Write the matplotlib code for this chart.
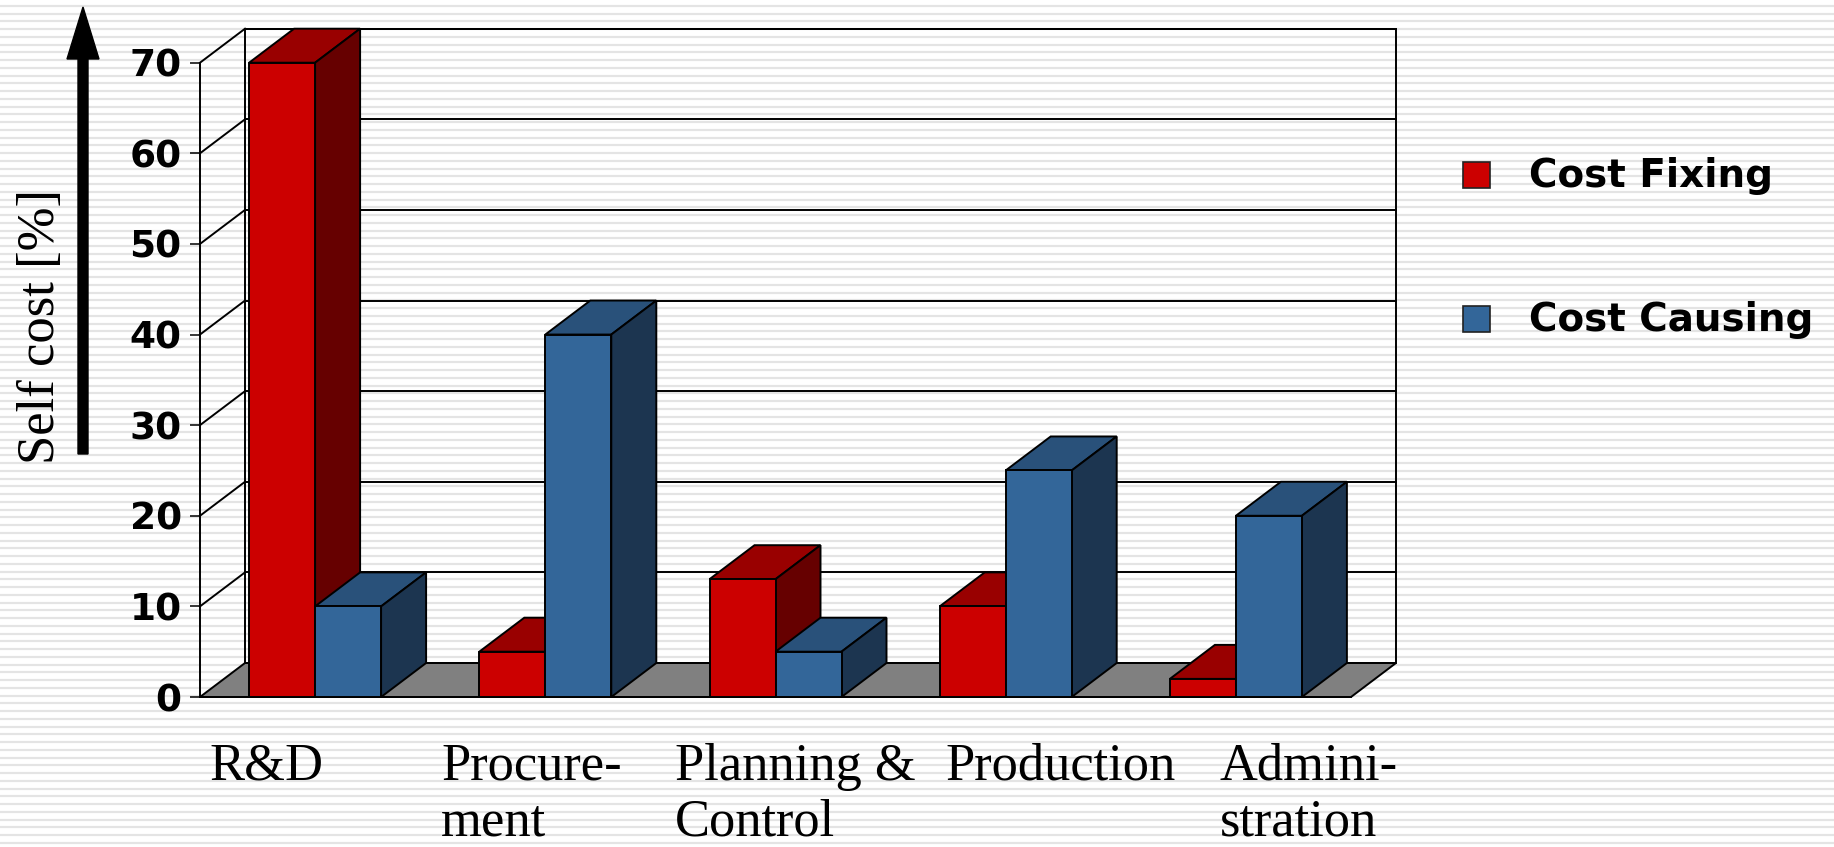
import numpy as np
import matplotlib
matplotlib.use("Agg")
import matplotlib.pyplot as plt
from matplotlib.patches import Polygon, Rectangle, FancyArrow

# data
categories = ["R&D", "Procure-\nment", "Planning &\nControl", "Production", "Admini-\nstration"]
cost_fixing = [70, 5, 13, 10, 2]
cost_causing = [10, 40, 5, 25, 20]
yticks = [0, 10, 20, 30, 40, 50, 60, 70]
series_names = ["Cost Fixing", "Cost Causing"]

# colours: front / top / side
RED = ("#cc0000", "#990000", "#660000")
BLUE = ("#336699", "#29517a", "#1c3550")
FLOOR = "#808080"

W, H = 1834, 847
fig = plt.figure(figsize=(W / 100, H / 100), dpi=100)

# background with thin horizontal stripes, pixel coordinates
bg = fig.add_axes([0, 0, 1, 1], zorder=0)
bg.set_xlim(0, W)
bg.set_ylim(H, 0)
bg.axis("off")
bg.hlines(np.arange(6, H, 7.75), 0, W, color="#e4e4e4", lw=1.6, zorder=0)

# front plane of the 3D box: x 200..1351 px, y 697..62.7 px
x0_px, x1_px, y0_px, y1_px = 200, 1351, 697, 62.7
ax = fig.add_axes([x0_px / W, (H - y0_px) / H, (x1_px - x0_px) / W, (y0_px - y1_px) / H], zorder=1)
ax.patch.set_alpha(0)
n = len(categories)
ax.set_xlim(0, n)
ax.set_ylim(0, max(yticks))

# depth offset in data units
dx = 45 / ((x1_px - x0_px) / n)
dy = 34 / ((y0_px - y1_px) / max(yticks))
lw = 1.4

# floor
ax.add_patch(Polygon([(0, 0), (n, 0), (n + dx, dy), (dx, dy)], closed=True,
                     facecolor=FLOOR, edgecolor="black", lw=lw, zorder=2, clip_on=False))
# back wall and grid lines
ax.add_patch(Rectangle((dx, dy), n, max(yticks), facecolor="none", edgecolor="black",
                       lw=lw, zorder=2, clip_on=False))
for v in yticks[1:]:
    ax.plot([dx, n + dx], [v + dy, v + dy], color="black", lw=lw, zorder=2, clip_on=False)
    ax.plot([0, dx], [v, v + dy], color="black", lw=lw, zorder=2, clip_on=False)

# bars
bar_w = 66 / ((x1_px - x0_px) / n)
gap = (1 - 2 * bar_w) / 2
z = 3
for i in range(n):
    for j, (vals, cols) in enumerate([(cost_fixing, RED), (cost_causing, BLUE)]):
        v = vals[i]
        xl = i + gap + j * bar_w
        xr = xl + bar_w
        top = [(xl, v), (xr, v), (xr + dx, v + dy), (xl + dx, v + dy)]
        side = [(xr, 0), (xr + dx, dy), (xr + dx, v + dy), (xr, v)]
        ax.add_patch(Polygon(top, closed=True, facecolor=cols[1], edgecolor="black",
                             lw=lw, zorder=z, clip_on=False, joinstyle="miter"))
        ax.add_patch(Polygon(side, closed=True, facecolor=cols[2], edgecolor="black",
                             lw=lw, zorder=z, clip_on=False))
        ax.add_patch(Rectangle((xl, 0), bar_w, v, facecolor=cols[0], edgecolor="black",
                               lw=lw, zorder=z + 0.5, clip_on=False))
        z += 1

for s in ["top", "right"]:
    ax.spines[s].set_visible(False)
ax.spines["left"].set_linewidth(lw)
ax.spines["bottom"].set_linewidth(lw)
ax.spines["left"].set_zorder(10)
ax.set_xticks([])
ax.set_yticks(yticks)
ax.set_yticklabels([str(t) for t in yticks], fontsize=27, fontweight="bold", family="DejaVu Sans")
ax.tick_params(axis="y", direction="out", length=7.2, width=1.1, pad=6)

# category labels (placed like the text boxes of the slide)
label_x = [209, 441, 675, 945, 1220]
for lx, lab in zip(label_x, categories):
    for k, line in enumerate(lab.split("\n")):
        bg.text(lx, 780 + k * 56, line, fontsize=37.8, family="Liberation Serif",
                va="baseline", ha="left", zorder=3)

# y axis title with arrow
bg.text(41, 326, "Self cost [%]", fontsize=38, family="Liberation Serif",
        rotation=90, ha="center", va="center", zorder=3)
bg.add_patch(FancyArrow(83, 454, 0, -447, width=10, head_width=32, head_length=52,
                        length_includes_head=True, color="black", zorder=3))

# legend
for (name, cols), ty in zip(zip(series_names, [RED, BLUE]), [162, 306]):
    bg.add_patch(Rectangle((1463, ty), 27, 26, facecolor=cols[0], edgecolor="#222222",
                           lw=1.2, zorder=3))
    bg.text(1529, ty + 25, name, fontsize=28, fontweight="bold", family="DejaVu Sans",
            va="baseline", ha="left", zorder=3)

fig.savefig("out.png", dpi=100)
